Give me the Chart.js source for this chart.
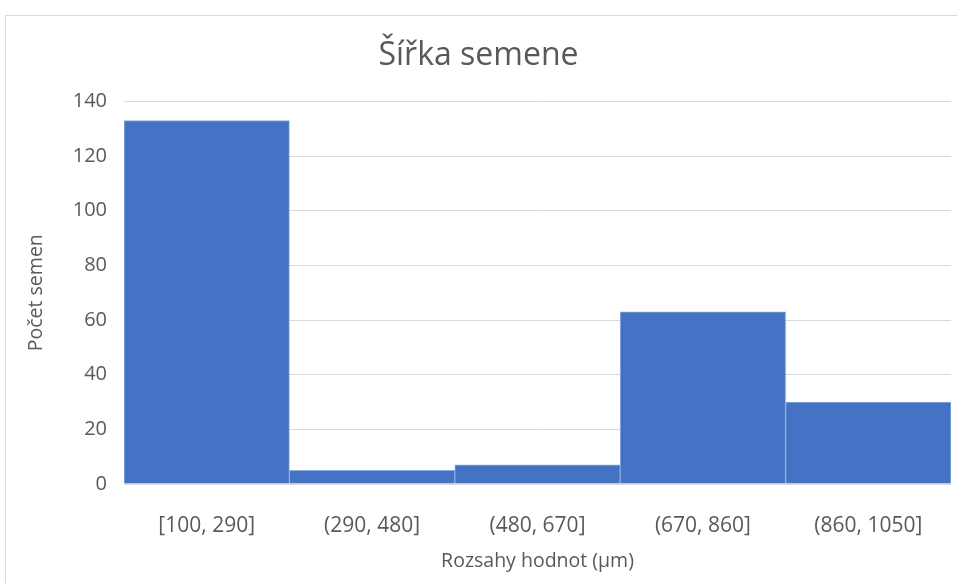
<!DOCTYPE html>
<html>
<head>
<meta charset="utf-8">
<script src="https://cdn.jsdelivr.net/npm/chart.js@4.4.1/dist/chart.umd.min.js"></script>
<style>
    html, body { margin: 0; padding: 0; background: #fff; overflow: hidden; }
    #box {
        position: absolute; left: 5px; top: 15px;
        width: 958px; height: 578px;
        border: 1px solid #d9d9d9;
    }
</style>
</head>
<body>
<div id="box"><canvas id="chart" width="958" height="578"></canvas></div>
<script>
// histogram bins and counts
const categories = ["[100, 290]", "(290, 480]", "(480, 670]", "(670, 860]", "(860, 1050]"];
const counts = [133, 5, 7, 63, 30];
const yTicks = [0, 20, 40, 60, 80, 100, 120, 140];

const FONT = "'Open Sans', 'Noto Sans', sans-serif";
const TEXT = "#595959";

new Chart(document.getElementById("chart"), {
    type: "bar",
    data: {
        labels: categories,
        datasets: [{
            label: "Počet semen",
            data: counts,
            backgroundColor: "#4472c4",
            borderColor: "#8faadc",
            borderWidth: 1,
            barPercentage: 1,
            categoryPercentage: 1
        }]
    },
    options: {
        responsive: false,
        animation: false,
        layout: { padding: { left: 0, right: 13, top: 0, bottom: 0 } },
        plugins: {
            legend: { display: false },
            tooltip: { enabled: false },
            title: {
                display: true,
                text: "Šířka semene",
                color: TEXT,
                font: { family: FONT, size: 32, weight: "normal" },
                padding: { top: 21, bottom: 26 }
            }
        },
        scales: {
            x: {
                grid: { display: false },
                border: { display: false },
                ticks: { color: TEXT, font: { family: FONT, size: 21 }, padding: 21, maxRotation: 0 },
                title: {
                    display: true,
                    text: "Rozsahy hodnot (µm)",
                    color: TEXT,
                    font: { family: FONT, size: 19.5 },
                    padding: { top: 0, bottom: 21 }
                },
                afterFit: (scale) => { scale.height = 110; }
            },
            y: {
                min: 0,
                max: yTicks[yTicks.length - 1],
                grid: { color: "#d9d9d9", drawTicks: false },
                border: { display: false },
                afterBuildTicks: (scale) => { scale.ticks = yTicks.map(v => ({ value: v })); },
                ticks: { color: TEXT, font: { family: FONT, size: 20 }, padding: 17 },
                title: {
                    display: true,
                    text: "Počet semen",
                    color: TEXT,
                    font: { family: FONT, size: 19.5 },
                    padding: { top: 19, bottom: 0 }
                },
                afterFit: (scale) => { scale.width = 118; }
            }
        }
    }
});
</script>
</body>
</html>
